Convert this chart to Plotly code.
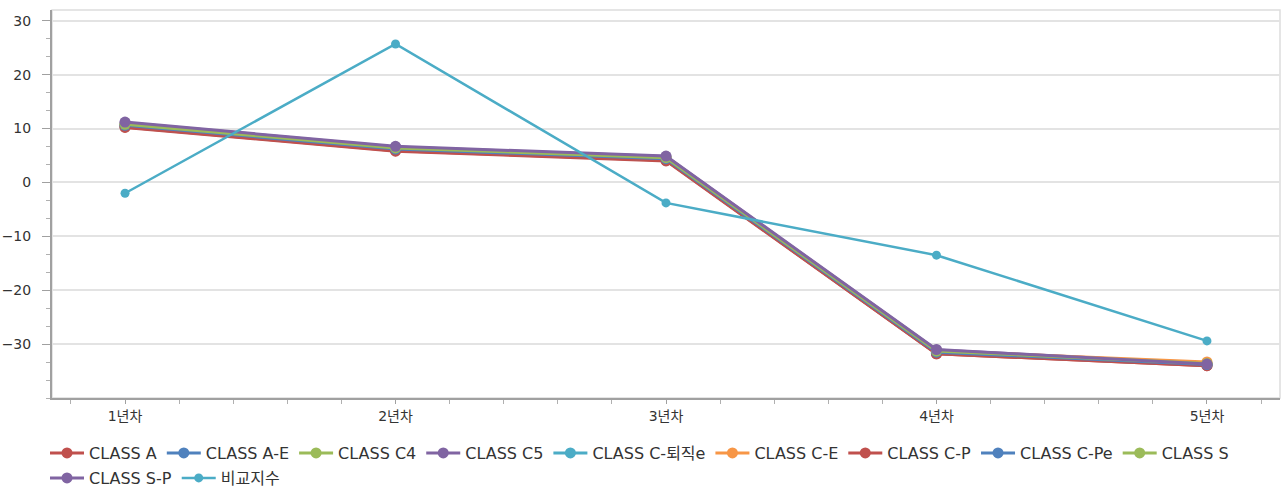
import plotly.graph_objects as go

categories = ["1년차", "2년차", "3년차", "4년차", "5년차"]
series_names = ["CLASS A", "CLASS A-E", "CLASS C4", "CLASS C5", "CLASS C-퇴직e",
                "CLASS C-E", "CLASS C-P", "CLASS C-Pe", "CLASS S", "CLASS S-P", "비교지수"]
class_a = [10.2, 5.8, 4.0, -31.8, -34.0]
class_ae = [10.5, 6.1, 4.3, -31.6, -33.8]
class_c4 = [10.7, 6.3, 4.5, -31.4, -33.7]
class_c5 = [11.1, 6.6, 4.8, -31.1, -33.6]
class_c_ret = [10.4, 6.0, 4.2, -31.7, -33.9]
class_ce = [10.6, 6.2, 4.4, -31.3, -33.3]
class_cp = [10.3, 5.9, 4.1, -31.8, -34.0]
class_cpe = [10.6, 6.2, 4.4, -31.5, -33.8]
class_s = [10.8, 6.4, 4.6, -31.3, -33.6]
class_sp = [11.2, 6.7, 4.9, -31.0, -33.7]
benchmark = [-2.0, 25.7, -3.8, -13.5, -29.4]
y_ticks = [-30, -20, -10, 0, 10, 20, 30]

values = [class_a, class_ae, class_c4, class_c5, class_c_ret,
          class_ce, class_cp, class_cpe, class_s, class_sp, benchmark]
colors = ["#C0504D", "#4F81BD", "#9BBB59", "#8064A2", "#4BACC6",
          "#F79646", "#C0504D", "#4F81BD", "#9BBB59", "#8064A2", "#4BACC6"]

FONT = "DejaVu Sans, Noto Sans CJK KR, sans-serif"
xpos = list(range(len(categories)))

fig = go.Figure()
for i, (name, vals, col) in enumerate(zip(series_names, values, colors)):
    is_bench = name == "비교지수"
    fig.add_trace(go.Scatter(
        x=xpos, y=vals, name=name, mode="lines+markers",
        legend="legend" if i < 9 else "legend2",
        line=dict(color=col, width=2.5 if is_bench else 3),
        marker=dict(color=col, size=9 if is_bench else 11),
    ))

fig.add_shape(type="rect", xref="paper", yref="paper", x0=0, y0=0, x1=1, y1=1,
              line=dict(color="#DDDDDD", width=1.5), layer="below")

legend_common = dict(orientation="h", xref="container", x=45 / 1282, xanchor="left",
                     yref="container", yanchor="middle",
                     font=dict(family=FONT, size=16, color="#333333"),
                     itemwidth=34, bgcolor="rgba(0,0,0,0)")

fig.update_layout(
    width=1282, height=488,
    margin=dict(l=52, r=2, t=10, b=90, autoexpand=False),
    paper_bgcolor="white", plot_bgcolor="white",
    font=dict(family=FONT, size=14, color="#333333"),
    showlegend=True,
    legend=dict(y=1 - 453 / 488, **legend_common),
    legend2=dict(y=1 - 478 / 488, **legend_common),
    xaxis=dict(range=[-0.27, 4.27], tickmode="array", tickvals=xpos, ticktext=categories,
               automargin=False,
               showgrid=False, zeroline=False, showline=True, linecolor="#A0A0A0", linewidth=2,
               ticks="outside", ticklen=4, tickcolor="#A0A0A0", tickwidth=1,
               minor=dict(tickmode="linear", tick0=0, dtick=0.2, ticks="outside", ticklen=4,
                          tickcolor="#B0B0B0", showgrid=False),
               tickfont=dict(size=14, color="#333333")),
    yaxis=dict(range=[-40, 32], tickmode="array", tickvals=y_ticks, automargin=False,
               showgrid=True, gridcolor="#E3E3E3", gridwidth=1.5, zeroline=False,
               showline=True, linecolor="#A0A0A0", linewidth=2,
               ticks="outside", ticklen=8, tickcolor="#A0A0A0", tickwidth=1,
               minor=dict(tickmode="linear", tick0=0, dtick=10/3, ticks="outside", ticklen=4,
                          tickcolor="#B0B0B0", showgrid=False),
               tickfont=dict(size=14, color="#333333"), ticklabelstandoff=8),
)

fig.write_html("out.html", config={"displayModeBar": False},
               post_script="document.body.style.margin='0px';")
